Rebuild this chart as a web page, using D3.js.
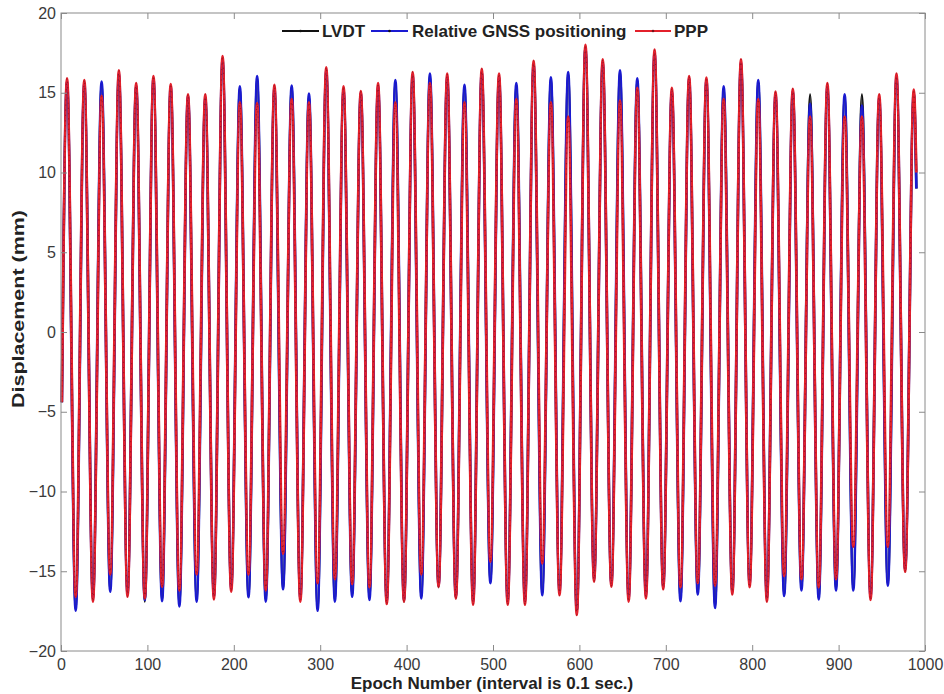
<!DOCTYPE html>
<html>
<head>
<meta charset="utf-8">
<script src="https://cdn.jsdelivr.net/npm/d3@7"></script>
<style>
  body { margin: 0; background: #fff; }
  svg { display: block; font-family: Arial, "Liberation Sans", sans-serif; }
</style>
</head>
<body>
<div id="chart"></div>
<script>
const width = 944;
const height = 694;
const margin = { top: 13, right: 19, bottom: 43, left: 61 };

// epochs of the extrema (peaks and troughs) and of the first / last sample
const peakEpochs = [7, 27, 47, 67, 87, 107, 127, 147, 167, 187, 207, 227, 247, 267, 287, 307, 327, 347, 367, 387,
  407, 427, 447, 467, 487, 507, 527, 547, 567, 587, 607, 627, 647, 667, 687, 707, 727, 747, 767, 787,
  807, 827, 847, 867, 887, 907, 927, 947, 967, 987];
const troughEpochs = [17, 37, 57, 77, 97, 117, 137, 157, 177, 197, 217, 237, 257, 277, 297, 317, 337, 357, 377, 397,
  417, 437, 457, 477, 497, 517, 537, 557, 577, 597, 617, 637, 657, 677, 697, 717, 737, 757, 777, 797,
  817, 837, 857, 877, 897, 917, 937, 957, 977];
const startEpoch = 1;
const endEpoch = 990;

// LVDT
const lvdtPeaks = [15.7, 15.6, 15.6, 16.2, 15.5, 15.9, 15.4, 14.8, 14.7, 17.1, 15.3, 15.9, 15.3, 15.4, 14.8, 16.4, 15.2, 15.0, 15.4, 15.7,
  16.1, 16.1, 16.0, 15.4, 16.3, 16.0, 15.5, 16.8, 15.9, 16.2, 17.9, 16.9, 16.3, 15.8, 17.5, 15.1, 15.9, 15.8, 15.3, 16.9,
  15.7, 14.9, 15.1, 14.9, 15.4, 14.8, 14.9, 14.7, 16.0, 15.0];
const lvdtTroughs = [-17.4, -16.7, -16.2, -16.4, -16.9, -16.8, -17.1, -16.8, -16.6, -16.1, -16.6, -16.8, -16.1, -16.7, -17.4, -16.8, -16.5, -16.7, -16.9, -16.9,
  -16.6, -16.0, -16.7, -16.9, -15.7, -16.9, -16.9, -16.4, -16.3, -17.5, -15.5, -15.9, -16.7, -16.5, -16.0, -16.8, -16.4, -17.2, -16.3, -15.8,
  -16.7, -16.5, -16.1, -16.7, -16.1, -16.1, -16.6, -15.8, -15.0];
const lvdtStart = -4.4;
const lvdtEnd = 9.0;

// Relative GNSS positioning
const gnssPeaks = [15.7, 15.6, 15.7, 16.2, 15.4, 15.9, 15.4, 14.8, 14.7, 17.1, 15.4, 16.05, 15.3, 15.45, 14.95, 16.4, 15.2, 15.0, 15.4, 15.8,
  16.1, 16.2, 16.0, 15.5, 16.3, 16.0, 15.6, 16.8, 15.97, 16.3, 17.8, 16.9, 16.4, 15.9, 17.5, 15.1, 15.9, 15.8, 15.4, 16.9,
  15.8, 14.9, 15.1, 14.3, 15.4, 14.9, 14.2, 14.7, 16.0, 15.0];
const gnssTroughs = [-17.47, -16.7, -16.28, -16.4, -16.8, -16.87, -17.2, -16.9, -16.6, -16.1, -16.63, -16.9, -16.13, -16.7, -17.47, -16.9, -16.6, -16.8, -16.9, -16.8,
  -16.7, -15.9, -16.6, -16.9, -15.75, -16.9, -16.9, -16.5, -16.3, -17.5, -15.5, -15.8, -16.7, -16.5, -16.0, -16.87, -16.45, -17.3, -16.3, -15.8,
  -16.7, -16.55, -16.2, -16.76, -16.2, -16.2, -16.6, -15.9, -14.9];
const gnssStart = -4.4;
const gnssEnd = 9.0;

// PPP
const pppPeaks = [15.9, 15.8, 14.8, 16.4, 15.6, 16.05, 15.55, 14.9, 14.9, 17.3, 14.4, 14.35, 15.5, 14.6, 14.4, 16.6, 15.4, 15.1, 15.6, 14.4,
  16.3, 15.6, 16.2, 14.4, 16.5, 16.2, 14.6, 17.0, 14.4, 13.5, 18.0, 17.1, 14.5, 15.3, 17.7, 15.3, 16.05, 15.95, 14.6, 17.1,
  14.6, 15.07, 15.24, 13.5, 15.6, 13.5, 13.5, 14.9, 16.2, 15.2];
const pppTroughs = [-16.6, -16.9, -15.2, -16.6, -16.7, -15.97, -16.2, -15.2, -16.76, -16.28, -15.2, -16.2, -13.9, -16.9, -15.75, -15.5, -15.8, -16.0, -17.05, -16.9,
  -15.2, -15.97, -16.7, -17.1, -14.4, -17.1, -17.1, -14.5, -16.5, -17.74, -15.65, -15.97, -16.9, -16.7, -16.13, -16.0, -15.75, -15.9, -16.45, -16.0,
  -16.9, -15.3, -15.5, -16.0, -15.5, -13.46, -16.8, -13.46, -15.03];
const pppStart = -4.4;
const pppEnd = 10.0;

const xTicks = [0, 100, 200, 300, 400, 500, 600, 700, 800, 900, 1000];
const yTicks = [-20, -15, -10, -5, 0, 5, 10, 15, 20];

const seriesNames = ["LVDT", "Relative GNSS positioning", "PPP"];
const seriesColors = ["#111111", "#1a1ad2", "#e3202b"];
const seriesWidths = [2.4, 2.7, 2.7];

// peak / trough sequence for one series
function buildSeries(start, peaks, troughs, end) {
  const pts = [[startEpoch, start]];
  peaks.forEach((p, i) => {
    pts.push([peakEpochs[i], p]);
    if (i < troughs.length) pts.push([troughEpochs[i], troughs[i]]);
  });
  pts.push([endEpoch, end]);
  return pts;
}

const series = [
  buildSeries(lvdtStart, lvdtPeaks, lvdtTroughs, lvdtEnd),
  buildSeries(gnssStart, gnssPeaks, gnssTroughs, gnssEnd),
  buildSeries(pppStart, pppPeaks, pppTroughs, pppEnd)
];

const innerW = width - margin.left - margin.right;
const innerH = height - margin.top - margin.bottom;

const svg = d3.select("#chart")
  .append("svg")
  .attr("width", width)
  .attr("height", height);

const g = svg.append("g")
  .attr("transform", `translate(${margin.left},${margin.top})`);

const x = d3.scaleLinear().domain([0, 1000]).range([0, innerW]);
const y = d3.scaleLinear().domain([-20, 20]).range([innerH, 0]);

const line = d3.line()
  .x(d => x(d[0]))
  .y(d => y(d[1]))
  .curve(d3.curveMonotoneX);

// lines
series.forEach((s, i) => {
  g.append("path")
    .datum(s)
    .attr("fill", "none")
    .attr("stroke", seriesColors[i])
    .attr("stroke-width", seriesWidths[i])
    .attr("stroke-linejoin", "round")
    .attr("d", line);
});

// dark point markers along the top (PPP) line
g.append("path")
  .datum(series[2])
  .attr("fill", "none")
  .attr("stroke", "#6e0b12")
  .attr("stroke-width", 1.1)
  .attr("stroke-dasharray", "1.2 4")
  .attr("opacity", 0.5)
  .attr("d", line);

// axes, MATLAB style: ticks pointing in on all four sides
const axisColor = "#8a8a8a";
const labelColor = "#3a3a3a";

function styleAxis(sel) {
  sel.select(".domain").remove();
  sel.selectAll(".tick line").attr("stroke", axisColor);
  sel.selectAll(".tick text")
    .attr("fill", labelColor)
    .style("font-size", "16px");
}

g.append("g")
  .attr("transform", `translate(0,${innerH})`)
  .call(d3.axisBottom(x).tickValues(xTicks).tickFormat(d3.format("d"))
    .tickSizeInner(-6).tickSizeOuter(0).tickPadding(8))
  .call(styleAxis);

g.append("g")
  .call(d3.axisTop(x).tickValues(xTicks).tickSizeInner(-6).tickSizeOuter(0).tickFormat(""))
  .call(styleAxis);

g.append("g")
  .call(d3.axisLeft(y).tickValues(yTicks).tickSizeInner(-6).tickSizeOuter(0).tickPadding(5))
  .call(styleAxis);

g.append("g")
  .attr("transform", `translate(${innerW},0)`)
  .call(d3.axisRight(y).tickValues(yTicks).tickSizeInner(-6).tickSizeOuter(0).tickFormat(""))
  .call(styleAxis);

g.append("rect")
  .attr("width", innerW)
  .attr("height", innerH)
  .attr("fill", "none")
  .attr("stroke", axisColor)
  .attr("stroke-width", 1);

// axis titles
svg.append("text")
  .attr("x", 492)
  .attr("y", 689)
  .attr("text-anchor", "middle")
  .style("font-size", "17px")
  .style("font-weight", "bold")
  .attr("fill", "#222")
  .text("Epoch Number (interval is 0.1 sec.)");

svg.append("text")
  .attr("transform", "translate(24,309) rotate(-90)")
  .attr("text-anchor", "middle")
  .attr("textLength", 198)
  .attr("lengthAdjust", "spacingAndGlyphs")
  .style("font-size", "17px")
  .style("font-weight", "bold")
  .attr("fill", "#222")
  .text("Displacement (mm)");

// legend
const legendItems = [
  { x0: 282, x1: 319, tx: 322 },
  { x0: 371, x1: 408, tx: 412 },
  { x0: 635, x1: 671, tx: 674 }
];
const legend = svg.append("g").attr("transform", "translate(0,31)");
legendItems.forEach((it, i) => {
  legend.append("line")
    .attr("x1", it.x0).attr("x2", it.x1)
    .attr("y1", 0).attr("y2", 0)
    .attr("stroke", seriesColors[i])
    .attr("stroke-width", 2.2);
  legend.append("circle")
    .attr("cx", (it.x0 + it.x1) / 2)
    .attr("cy", 0)
    .attr("r", 1.3)
    .attr("fill", i === 2 ? "#7a1018" : "#111");
  legend.append("text")
    .attr("x", it.tx)
    .attr("y", 6)
    .style("font-size", "17px")
    .style("font-weight", "bold")
    .attr("fill", "#222")
    .text(seriesNames[i]);
});
</script>
</body>
</html>
